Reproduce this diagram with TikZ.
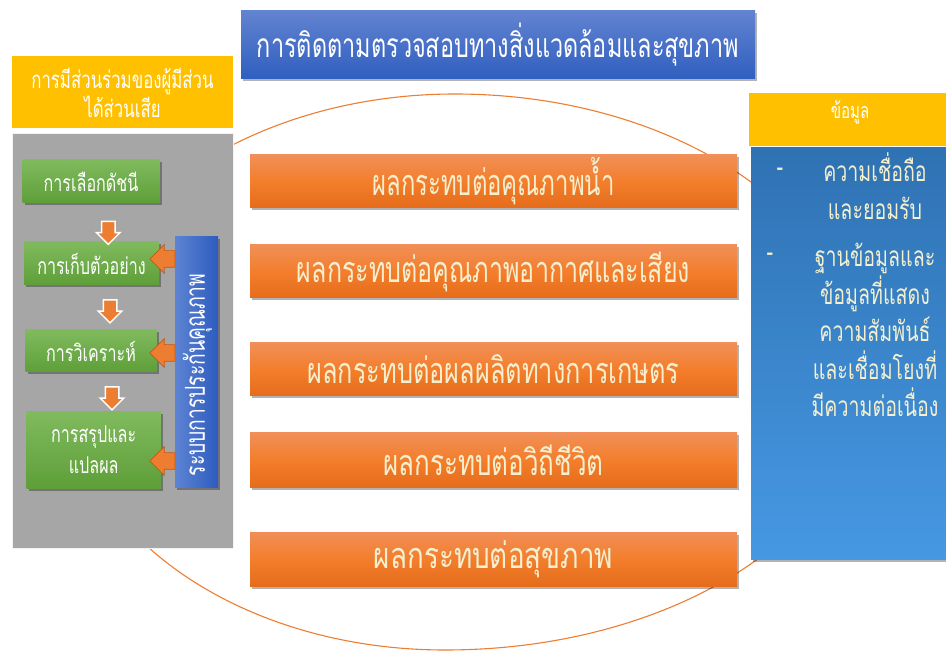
\documentclass[tikz,border=0pt]{standalone}
\usepackage{fontspec}
\usepackage{graphicx}
\newfontfamily\thai[Script=Thai,FakeStretch=0.7]{Loma}
\usetikzlibrary{shapes.arrows,shadows}
% set a line of text to a given width, keeping its height
\newcommand\fitto[2]{\resizebox{#1}{\height}{#2}}
\definecolor{ringorange}{HTML}{ED7D31}
\definecolor{boxgray}{HTML}{A6A6A6}
\definecolor{hdryellow}{HTML}{FFC000}
\definecolor{ttltop}{HTML}{6283D0}
\definecolor{ttlbot}{HTML}{2F5FC0}
\definecolor{grntop}{HTML}{80BA5E}
\definecolor{grnbot}{HTML}{5E9F38}
\definecolor{orgtop}{HTML}{F18F58}
\definecolor{orgmid}{HTML}{F37E2C}
\definecolor{orgbot}{HTML}{E56C1B}
\definecolor{qaleft}{HTML}{5D84D3}
\definecolor{qaright}{HTML}{2D5CBF}
\definecolor{rptop}{HTML}{2F72B3}
\definecolor{rpbot}{HTML}{4698E3}
\definecolor{cream}{HTML}{F3EFCF}
\definecolor{arrowedge}{HTML}{C55A11}
\begin{document}
\begin{tikzpicture}[x=1pt,y=-1pt,
  softshadow/.style={drop shadow={shadow xshift=2pt,shadow yshift=-2.5pt,opacity=0.3,fill=black}},
  panel/.style={draw=none,inner sep=0pt,outer sep=0pt},
  titlebox/.style={panel,softshadow,top color=ttltop,bottom color=ttlbot,text=white,
    font={\thai\fontsize{33.5}{38}\selectfont}},
  hdrbox/.style={panel,fill=hdryellow,text=white,align=center,
    font={\thai\fontsize{24}{27}\selectfont}},
  graypanel/.style={panel,fill=boxgray,draw=white!85!boxgray,line width=0.8pt},
  stepbox/.style={panel,softshadow,top color=grntop,bottom color=grnbot,text=white,align=center,
    font={\thai\fontsize{23}{31.5}\selectfont}},
  qabar/.style={panel,softshadow,left color=qaleft,right color=qaright},
  qatext/.style={rotate=90,text=white,inner sep=0pt,font={\thai\fontsize{27.5}{30}\selectfont}},
  impactbox/.style={panel,softshadow,top color=orgtop,bottom color=orgbot,middle color=orgmid,
    text=cream,font={\thai\fontsize{36}{40}\selectfont}},
  infopanel/.style={panel,softshadow,top color=rptop,bottom color=rpbot},
  infotext/.style={text=cream,align=center,inner sep=0pt,font={\thai\fontsize{28}{37.5}\selectfont}},
  downarrow/.style={single arrow,shape border rotate=270,fill=ringorange,draw=white,line width=1.5pt,
    inner sep=6pt,minimum height=23pt,minimum width=22pt,single arrow head extend=5pt},
  leftarrow/.style={single arrow,shape border rotate=180,fill=ringorange,draw=arrowedge,line width=0.6pt,
    inner sep=8pt,minimum height=20pt,minimum width=28pt,single arrow head extend=6pt},
  ringline/.style={draw=ringorange,line width=1.1pt}
]
\useasboundingbox (0,0) rectangle (946,652);

% the surrounding ring (four quarter-ellipse arcs), drawn first so every box sits over it
\coordinate (ringT) at (455,94);
\coordinate (ringR) at (864,378);
\coordinate (ringB) at (445,650);
\coordinate (ringL) at (66,378);
\draw[ringline] (ringT) .. controls (680.9,94) and (864,221.1) .. (ringR)
  .. controls (864,528.2) and (676.4,650) .. (ringB)
  .. controls (235.7,650) and (66,528.2) .. (ringL)
  .. controls (66,221.1) and (240.2,94) .. (ringT) -- cycle;

% heading
\node[titlebox,minimum width=514pt,minimum height=68pt] (title) at (498,45)
  {การติดตามตรวจสอบทางสิ่งแวดล้อมและสุขภาพ};

% stakeholder column
\node[hdrbox,minimum width=221pt,minimum height=72pt] (hdrL) at (122.5,92.5)
  {การมีส่วนร่วมของผู้มีส่วน\\ได้ส่วนเสีย};
\node[graypanel,minimum width=221pt,minimum height=415pt] (panelL) at (122.5,340.5) {};

\node[stepbox,minimum width=137pt,minimum height=43pt] (g1) at (91,181.5) {การเลือกดัชนี};
\node[stepbox,minimum width=135pt,minimum height=43pt] (g2) at (91.5,263.5) {การเก็บตัวอย่าง};
\node[stepbox,minimum width=131pt,minimum height=42pt] (g3) at (91,351) {การวิเคราะห์};
\node[stepbox,minimum width=134pt,minimum height=76pt] (g4) at (93.7,450) {การสรุปและ\\แปลผล};

\node[downarrow] (a1) at (108.3,229.5) {};
\node[downarrow] (a2) at (110,308) {};
\node[downarrow] (a3) at (112,395) {};

\node[qabar,minimum width=43pt,minimum height=250pt] (qa) at (196.5,362) {};
\node[qatext] (qalabel) at (197.5,375) {ระบบการประกันคุณภาพ};

\node[leftarrow] (b1) at (166.5,259) {};
\node[leftarrow] (b2) at (166.5,353) {};
\node[leftarrow] (b3) at (166.5,461) {};

% impact boxes
\node[impactbox,minimum width=487pt,minimum height=53pt] (o1) at (493.5,181.5) {\fitto{242pt}{ผลกระทบต่อคุณภาพน้ำ}};
\node[impactbox,minimum width=487pt,minimum height=53pt] (o2) at (493.5,271.5) {\fitto{393pt}{ผลกระทบต่อคุณภาพอากาศและเสียง}};
\node[impactbox,minimum width=487pt,minimum height=53pt] (o3) at (493.5,369.5) {\fitto{372pt}{ผลกระทบต่อผลผลิตทางการเกษตร}};
\node[impactbox,minimum width=487pt,minimum height=54pt] (o4) at (493.5,460) {\fitto{220pt}{ผลกระทบต่อวิถีชีวิต}};
\node[impactbox,minimum width=487pt,minimum height=54pt] (o5) at (493.5,559) {\fitto{239pt}{ผลกระทบต่อสุขภาพ}};

% data column
\node[panel,fill=hdryellow,minimum width=201pt,minimum height=53pt] (hdrR) at (849.5,119.5) {};
\node[text=white,inner sep=0pt,font={\thai\fontsize{21.5}{25}\selectfont}] (hdrRtext) at (850,112) {ข้อมูล};
\node[infopanel,minimum width=201pt,minimum height=411pt] (panelR) at (851.5,353.5) {};

\node[infotext] (d1) at (780,172) {-};
\node[infotext] (t1) at (875,186) {ความเชื่อถือ\\และยอมรับ};
\node[infotext] (d2) at (770,257) {-};
\node[infotext] (t2) at (875,330) {ฐานข้อมูลและ\\ข้อมูลที่แสดง\\ความสัมพันธ์\\และเชื่อมโยงที่\\มีความต่อเนื่อง};
\end{tikzpicture}
\end{document}
